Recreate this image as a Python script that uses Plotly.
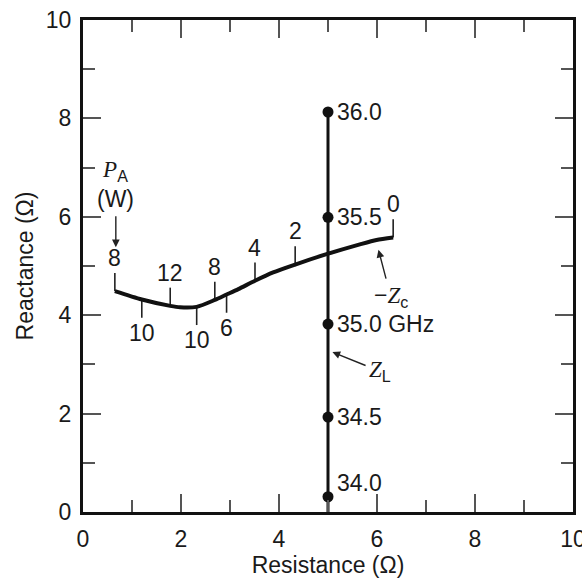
import plotly.graph_objects as go

# ---- data ----
# -Zc curve samples: resistance (ohm), reactance (ohm)
zc_r = [0.65, 1.20, 1.78, 1.98, 2.32, 2.69, 2.93, 3.17, 3.51, 3.88, 4.33, 4.97, 5.65, 5.99, 6.33]
zc_x = [4.49, 4.32, 4.19, 4.16, 4.17, 4.31, 4.42, 4.53, 4.70, 4.87, 5.03, 5.24, 5.44, 5.53, 5.58]

# power (W) hash marks along -Zc
pa_r = [0.65, 1.20, 1.78, 2.32, 2.69, 2.93, 3.51, 4.33, 6.33]
pa_x = [4.49, 4.32, 4.19, 4.17, 4.31, 4.42, 4.70, 5.03, 5.58]
pa_side = [1, -1, 1, -1, 1, -1, 1, 1, 1]
pa_label = ["8", "10", "12", "10", "8", "6", "4", "2", "0"]

# Z_L load line: frequency points
zl_r = 5.0
zl_x = [8.13, 5.99, 3.82, 1.93, 0.31]
zl_label = ["36.0", "35.5", "35.0 GHz", "34.5", "34.0"]

x_ticks = [0, 2, 4, 6, 8, 10]
y_ticks = [0, 2, 4, 6, 8, 10]

# ---- styles ----
FONT = "Liberation Sans, Arial, Helvetica, sans-serif"
TXT = "#1a1a1a"
FS = 23
HASH_LEN = 0.37

fig = go.Figure()

# Z_L vertical line (from the axis up to the 36.0 GHz point)
fig.add_trace(go.Scatter(x=[zl_r, zl_r], y=[0, max(zl_x)], mode="lines",
                         line=dict(color="#111", width=3), hoverinfo="skip"))
fig.add_trace(go.Scatter(x=[zl_r] * len(zl_x), y=zl_x, mode="markers",
                         marker=dict(color="#111", size=11), hoverinfo="skip"))

# hash marks
hx, hy = [], []
for r, x, s in zip(pa_r, pa_x, pa_side):
    hx += [r, r, None]
    hy += [x, x + s * HASH_LEN, None]
fig.add_trace(go.Scatter(x=hx, y=hy, mode="lines",
                         line=dict(color="#222", width=1.6), hoverinfo="skip"))

# -Zc curve
fig.add_trace(go.Scatter(x=zc_r, y=zc_x, mode="lines",
                         line=dict(color="#111", width=4, shape="spline", smoothing=0.7),
                         hoverinfo="skip"))

ann = []
for r, x, s, lab in zip(pa_r, pa_x, pa_side, pa_label):
    ann.append(dict(x=r, y=x + s * HASH_LEN, text=lab, showarrow=False,
                    xanchor="center", yanchor="bottom" if s > 0 else "top",
                    yshift=0, font=dict(size=FS, color=TXT, family=FONT)))

zl_yshift = [0, 0, 0, 0, 14]
for x, lab, ys in zip(zl_x, zl_label, zl_yshift):
    ann.append(dict(x=zl_r, y=x, text=lab, showarrow=False, xanchor="left",
                    yanchor="middle", xshift=7, yshift=ys,
                    font=dict(size=FS, color=TXT, family=FONT)))

# -Zc label with arrow
ann.append(dict(x=6.03, y=5.33, ax=6.28, ay=4.38, axref="x", ayref="y",
                text="\u2212<span style='font-family:Liberation Serif'><i>Z</i></span><sub>c</sub>",
                showarrow=True, arrowhead=2, arrowsize=1.1, arrowwidth=1.4,
                arrowcolor="#222", startstandoff=2,
                font=dict(size=FS, color=TXT, family=FONT)))
# Z_L label with arrow
ann.append(dict(x=5.09, y=3.25, ax=6.06, ay=2.86, axref="x", ayref="y",
                text="<span style='font-family:Liberation Serif'><i>Z</i></span><sub>L</sub>",
                showarrow=True, arrowhead=2, arrowsize=1.1, arrowwidth=1.4,
                arrowcolor="#222", startstandoff=2,
                font=dict(size=FS, color=TXT, family=FONT)))
# P_A (W) with arrow
ann.append(dict(x=0.67, y=5.38, ax=0.67, ay=6.66, axref="x", ayref="y",
                text="<span style='font-family:Liberation Serif'><i>P</i></span><sub>A</sub><br>(W)",
                showarrow=True, arrowhead=2, arrowsize=1.1, arrowwidth=1.4,
                arrowcolor="#222", startstandoff=3,
                font=dict(size=FS, color=TXT, family=FONT)))

axis_common = dict(
    range=[0, 10], showgrid=False, zeroline=False, automargin=False,
    showline=True, linecolor="#111", linewidth=3, mirror="allticks",
    ticks="inside", ticklen=18, tickwidth=1.5, tickcolor="#555",
    minor=dict(dtick=1, ticks="inside", ticklen=12, tickwidth=1.5, tickcolor="#555"),
    tickfont=dict(size=FS, color=TXT, family=FONT),
    tickmode="array", ticklabeloverflow="allow",
)

fig.update_layout(
    width=582, height=579,
    margin=dict(l=83, r=9, t=20, b=67),
    paper_bgcolor="white", plot_bgcolor="white",
    showlegend=False,
    font=dict(family=FONT, size=FS, color=TXT),
    annotations=ann,
    xaxis=dict(axis_common, tickvals=x_ticks, ticktext=[str(v) for v in x_ticks],
               title=dict(text="Resistance (\u03a9)", standoff=4,
                          font=dict(size=FS, color=TXT, family=FONT)),
               ticklabelstandoff=4),
    yaxis=dict(axis_common, tickvals=y_ticks, ticktext=[str(v) for v in y_ticks],
               title=dict(text="Reactance (\u03a9)", standoff=6,
                          font=dict(size=FS, color=TXT, family=FONT)),
               ticklabelstandoff=4),
)

fig.write_html("out.html")
